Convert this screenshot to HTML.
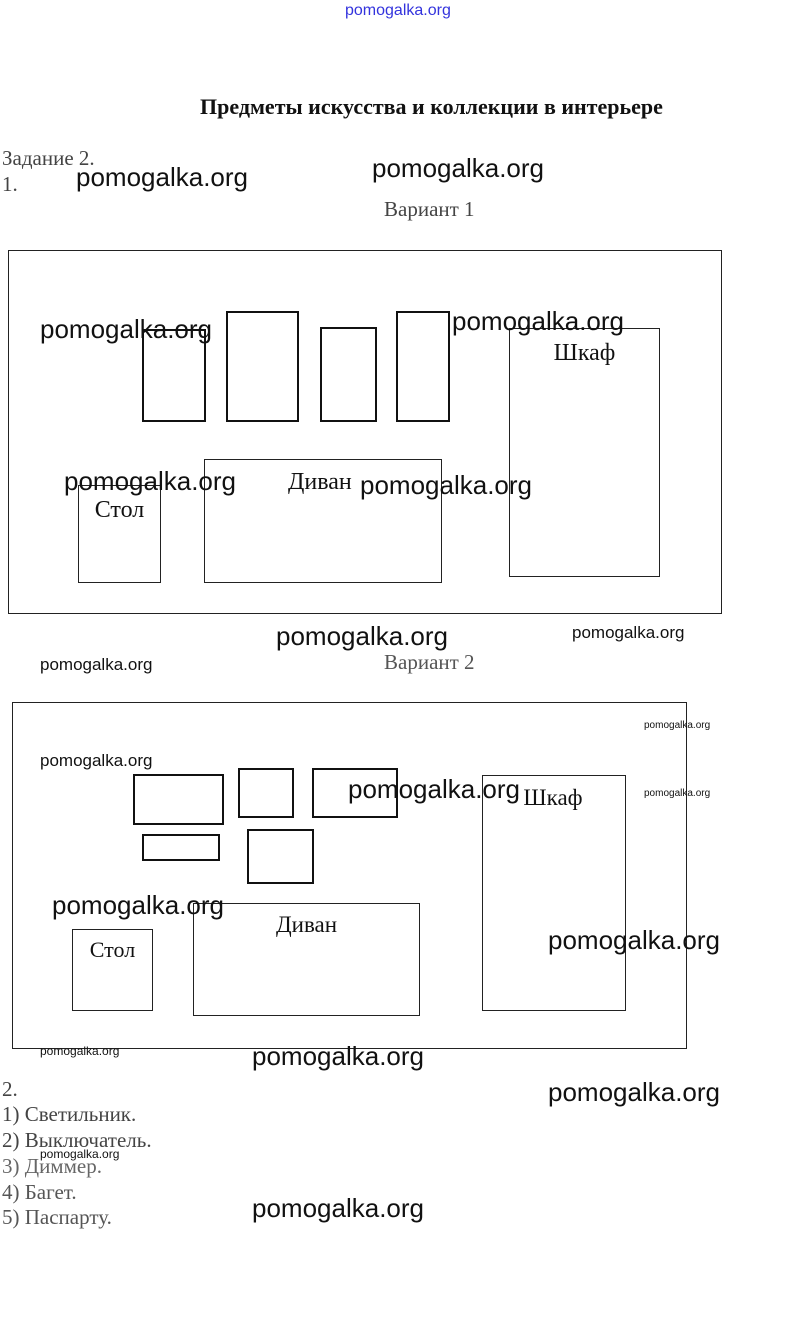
<!DOCTYPE html>
<html><head><meta charset="utf-8">
<style>
html,body{margin:0;padding:0;background:#fff;}
body{width:804px;height:1325px;position:relative;overflow:hidden;}
.a{position:absolute;white-space:nowrap;line-height:1;}
.s{font-family:"Liberation Serif",serif;color:#222;}
.w{font-family:"Liberation Sans",sans-serif;color:#111;}
.b{position:absolute;border:1px solid #222;box-sizing:border-box;}
.t{position:absolute;border:2px solid #111;box-sizing:border-box;}
.lbl{font-family:"Liberation Serif",serif;font-size:24px;color:#111;position:absolute;left:0;right:0;text-align:center;line-height:1;}
</style></head><body>

<div class="a w" style="left:345px;top:3px;font-size:16px;color:#3333dd;">pomogalka.org</div>
<div class="a s" style="left:200px;top:96px;font-size:22px;font-weight:bold;color:#111;">Предметы искусства и коллекции в интерьере</div>
<div class="a s" style="left:2px;top:148px;font-size:21px;color:#444;">Задание 2.</div>
<div class="a s" style="left:2px;top:174px;font-size:21px;color:#444;">1.</div>
<div class="a s" style="left:384px;top:199px;font-size:21px;color:#444;">Вариант 1</div>

<!-- Variant 1 -->
<div class="b" style="left:8px;top:250px;width:714px;height:364px;"></div>
<div class="t" style="left:142px;top:329px;width:64px;height:93px;"></div>
<div class="t" style="left:226px;top:311px;width:73px;height:111px;"></div>
<div class="t" style="left:320px;top:327px;width:57px;height:95px;"></div>
<div class="t" style="left:396px;top:311px;width:54px;height:111px;"></div>
<div class="b" style="left:509px;top:328px;width:151px;height:249px;"><div class="lbl" style="top:12px;">Шкаф</div></div>
<div class="b" style="left:78px;top:485px;width:83px;height:98px;"><div class="lbl" style="top:12px;">Стол</div></div>
<div class="b" style="left:204px;top:459px;width:238px;height:124px;"><div class="a s" style="left:83px;top:10px;font-size:24px;color:#111;">Диван</div></div>

<div class="a s" style="left:384px;top:652px;font-size:21px;color:#555;">Вариант 2</div>

<!-- Variant 2 -->
<div class="b" style="left:12px;top:702px;width:675px;height:347px;"></div>
<div class="t" style="left:133px;top:774px;width:91px;height:51px;"></div>
<div class="t" style="left:238px;top:768px;width:56px;height:50px;"></div>
<div class="t" style="left:312px;top:768px;width:86px;height:50px;"></div>
<div class="t" style="left:142px;top:834px;width:78px;height:27px;"></div>
<div class="t" style="left:247px;top:829px;width:67px;height:55px;"></div>
<div class="b" style="left:482px;top:775px;width:144px;height:236px;"><div class="lbl" style="top:10px;left:-2px;font-size:23px;">Шкаф</div></div>
<div class="b" style="left:72px;top:929px;width:81px;height:82px;"><div class="lbl" style="top:9px;font-size:22px;">Стол</div></div>
<div class="b" style="left:193px;top:903px;width:227px;height:113px;"><div class="lbl" style="top:9px;font-size:23px;">Диван</div></div>

<!-- List -->
<div class="a s" style="left:2px;top:1079px;font-size:21px;color:#444;">2.</div>
<div class="a s" style="left:2px;top:1104px;font-size:21px;color:#444;">1) Светильник.</div>
<div class="a s" style="left:2px;top:1130px;font-size:21px;color:#444;">2) Выключатель.</div>
<div class="a s" style="left:2px;top:1156px;font-size:21px;color:#666;">3) Диммер.</div>
<div class="a s" style="left:2px;top:1182px;font-size:21px;color:#555;">4) Багет.</div>
<div class="a s" style="left:2px;top:1207px;font-size:21px;color:#555;">5) Паспарту.</div>

<!-- watermarks -->
<div class="a w" style="left:76px;top:164px;font-size:26px;">pomogalka.org</div>
<div class="a w" style="left:372px;top:155px;font-size:26px;">pomogalka.org</div>
<div class="a w" style="left:40px;top:316px;font-size:26px;">pomogalka.org</div>
<div class="a w" style="left:452px;top:308px;font-size:26px;">pomogalka.org</div>
<div class="a w" style="left:64px;top:468px;font-size:26px;">pomogalka.org</div>
<div class="a w" style="left:360px;top:472px;font-size:26px;">pomogalka.org</div>
<div class="a w" style="left:276px;top:623px;font-size:26px;">pomogalka.org</div>
<div class="a w" style="left:572px;top:624px;font-size:17px;">pomogalka.org</div>
<div class="a w" style="left:40px;top:656px;font-size:17px;">pomogalka.org</div>
<div class="a w" style="left:644px;top:721px;font-size:10px;">pomogalka.org</div>
<div class="a w" style="left:40px;top:752px;font-size:17px;">pomogalka.org</div>
<div class="a w" style="left:348px;top:776px;font-size:26px;">pomogalka.org</div>
<div class="a w" style="left:644px;top:789px;font-size:10px;">pomogalka.org</div>
<div class="a w" style="left:52px;top:892px;font-size:26px;">pomogalka.org</div>
<div class="a w" style="left:548px;top:927px;font-size:26px;">pomogalka.org</div>
<div class="a w" style="left:40px;top:1045px;font-size:12px;">pomogalka.org</div>
<div class="a w" style="left:252px;top:1043px;font-size:26px;">pomogalka.org</div>
<div class="a w" style="left:548px;top:1079px;font-size:26px;">pomogalka.org</div>
<div class="a w" style="left:40px;top:1148px;font-size:12px;">pomogalka.org</div>
<div class="a w" style="left:252px;top:1195px;font-size:26px;">pomogalka.org</div>

</body></html>
